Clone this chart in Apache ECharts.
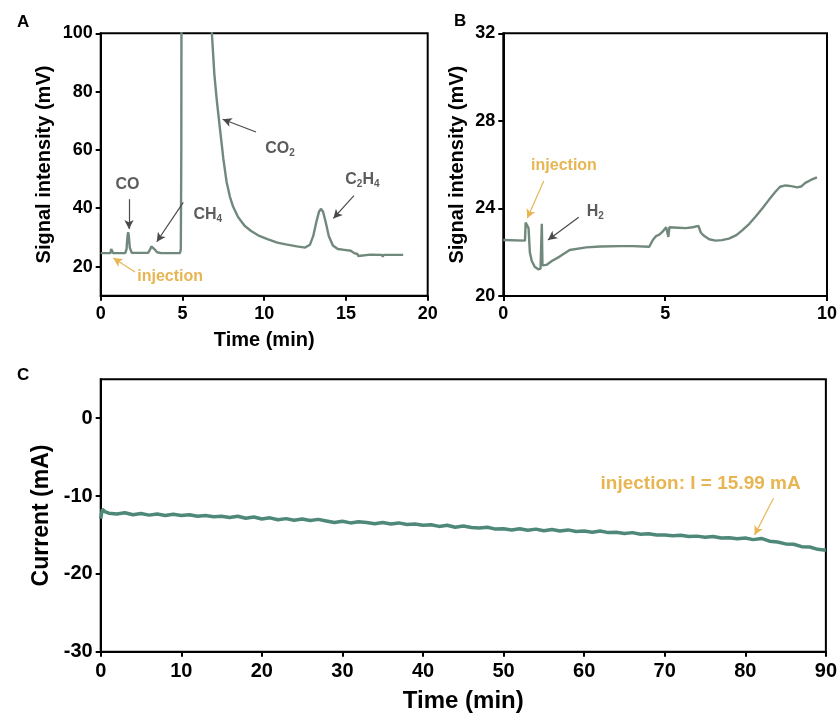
<!DOCTYPE html>
<html>
<head>
<meta charset="utf-8">
<script src="https://cdn.jsdelivr.net/npm/echarts@6/dist/echarts.min.js"></script>
<style>html,body{margin:0;padding:0;background:#fff}#c{width:840px;height:715px}</style>
</head>
<body>
<div id="c"></div>
<script>
// Panel A: GC signal (FID)
const aTime = [0, 0.6, 0.64, 0.66, 0.74, 0.76, 0.8, 1.5, 1.58, 1.64, 1.68, 1.72, 1.78, 1.9, 2.9, 3.0, 3.1, 3.18, 3.28, 3.45, 3.7, 4.85, 4.9, 4.93, 4.96, 6.7, 6.8, 6.95, 7.1, 7.3, 7.5, 7.7, 7.9, 8.1, 8.4, 8.8, 9.2, 9.7, 10.2, 10.8, 11.4, 12.0, 12.5, 12.8, 13.0, 13.2, 13.35, 13.48, 13.6, 13.75, 13.95, 14.2, 14.5, 14.9, 15.3, 15.5, 15.7, 15.75, 15.8, 16.5, 17.2, 17.25, 17.3, 18.0, 18.5];
const aSignal = [24.6, 24.6, 26, 26.1, 26, 24.6, 24.6, 24.6, 26, 30.5, 31.8, 30.5, 26.5, 24.7, 24.7, 25.6, 26.9, 27.0, 26.0, 24.9, 24.6, 24.6, 26, 60, 200, 200, 100, 86, 77, 67, 57, 49, 44, 40.5, 37, 34, 32.2, 30.5, 29.4, 28.2, 27.5, 26.9, 26.5, 27.5, 30.5, 35.5, 38.8, 39.8, 38.8, 35.5, 30.5, 27.2, 26, 25.7, 25.4, 24.6, 24.3, 23.6, 24.2, 24.1, 24.0, 23.3, 24.0, 24.0, 24.0];
const aYTicks = [20, 40, 60, 80, 100];

// Panel B: GC signal (TCD)
const bTime = [0, 0.67, 0.69, 0.72, 0.78, 0.82, 0.88, 0.97, 1.08, 1.15, 1.17, 1.19, 1.21, 1.24, 1.33, 1.5, 1.74, 2.05, 2.56, 3.0, 3.59, 4.0, 4.51, 4.62, 4.72, 4.82, 4.92, 5.03, 5.09, 5.1, 5.12, 5.13, 5.15, 5.4, 5.64, 5.85, 6.03, 6.1, 6.2, 6.36, 6.56, 6.75, 6.97, 7.2, 7.38, 7.6, 7.79, 8.0, 8.2, 8.4, 8.55, 8.72, 8.9, 9.08, 9.2, 9.33, 9.5, 9.69];
const bSignal = [22.56, 22.53, 23.35, 23.3, 23.1, 22.0, 21.6, 21.34, 21.22, 21.25, 21.3, 23.3, 21.4, 21.36, 21.42, 21.6, 21.8, 22.1, 22.22, 22.26, 22.28, 22.28, 22.25, 22.56, 22.74, 22.8, 22.94, 23.14, 23.12, 22.7, 22.7, 23.14, 23.14, 23.12, 23.1, 23.14, 23.2, 22.9, 22.75, 22.59, 22.53, 22.55, 22.62, 22.78, 23.0, 23.3, 23.62, 24.0, 24.38, 24.75, 24.99, 25.05, 25.02, 24.96, 25.0, 25.17, 25.3, 25.42];

// Panel C: current vs time
const cTime = [0, 0.2, 0.5, 1, 2, 3, 4, 5, 6, 7, 8, 9, 10, 11, 12, 13, 14, 15, 16, 17, 18, 19, 20, 21, 22, 23, 24, 25, 26, 27, 28, 29, 30, 31, 32, 33, 34, 35, 36, 37, 38, 39, 40, 41, 42, 43, 44, 45, 46, 47, 48, 49, 50, 51, 52, 53, 54, 55, 56, 57, 58, 59, 60, 61, 62, 63, 64, 65, 66, 67, 68, 69, 70, 71, 72, 73, 74, 75, 76, 77, 78, 79, 80, 81, 82, 83, 84, 85, 86, 87, 88, 89, 90];
const cCurrent = [-12.9, -11.7, -12.0, -12.2, -12.3, -12.15, -12.4, -12.25, -12.45, -12.3, -12.5, -12.35, -12.5, -12.4, -12.6, -12.5, -12.65, -12.6, -12.75, -12.6, -12.85, -12.7, -12.95, -12.8, -13.05, -12.9, -13.1, -12.95, -13.15, -13.0, -13.2, -13.4, -13.25, -13.45, -13.3, -13.4, -13.55, -13.4, -13.6, -13.45, -13.65, -13.6, -13.75, -13.7, -13.9, -13.75, -14.0, -13.85, -14.05, -14.1, -14.0, -14.25, -14.2, -14.35, -14.2, -14.4, -14.25, -14.45, -14.3, -14.5, -14.35, -14.55, -14.5, -14.65, -14.5, -14.7, -14.65, -14.8, -14.7, -14.9, -14.85, -15.0, -15.0, -15.1, -15.05, -15.2, -15.15, -15.3, -15.2, -15.4, -15.35, -15.5, -15.4, -15.6, -15.45, -15.8, -15.9, -16.15, -16.2, -16.5, -16.55, -16.85, -16.95];
const cYTicks = [-30, -20, -10, 0];

const FONT = 'Arial, "Liberation Sans", sans-serif';
const GRAY = '#5c5c5c';
const ORANGE = '#E8B553';
const ARROW = '#4a4a4a';

function zip(xs, ys) { return xs.map((x, i) => [x, ys[i]]); }

function valueAxis(gridIndex, opts) {
  return Object.assign({
    type: 'value', gridIndex,
    axisLine: { show: true, onZero: false, lineStyle: { color: '#000', width: 2 } },
    axisTick: { show: true, inside: false, length: 5, lineStyle: { color: '#000', width: 2 } },
    splitLine: { show: false },
    axisLabel: { color: '#000', fontWeight: 'bold', fontFamily: FONT, fontSize: 18, margin: 9 },
    nameLocation: 'middle',
    nameTextStyle: { color: '#000', fontWeight: 'bold', fontFamily: FONT, fontSize: 20 }
  }, opts);
}

function arrow(p1, p2, color) {
  return [{ coord: p1, lineStyle: { color, width: 1.2, type: 'solid' } }, { coord: p2 }];
}
function textPt(coord, formatter, color, size) {
  return { coord, symbolSize: 1, itemStyle: { color: 'rgba(0,0,0,0)' },
    label: { show: true, position: 'right', distance: 0, formatter, color, fontSize: size, fontWeight: 'bold', fontFamily: FONT,
      rich: {
        a: { color, fontSize: size, fontWeight: 'bold', fontFamily: FONT },
        s: { color, fontSize: Math.round(size * 0.65), fontWeight: 'bold', fontFamily: FONT, padding: [9, 0, 0, 0] }
      } } };
}
const mlBase = { silent: true, symbol: ['none', 'arrow'], symbolSize: [7, 9], label: { show: false }, emphasis: { disabled: true }, animation: false };
const mpBase = { silent: true, animation: false };

const panelTitle = (text, left, top) => ({ text, left, top, textStyle: { fontSize: 17, fontWeight: 'bold', fontFamily: FONT, color: '#000' } });

const option = {
  animation: false,
  backgroundColor: '#fff',
  title: [panelTitle('A', 12, 9), panelTitle('B', 449, 8), panelTitle('C', 12, 362)],
  grid: [
    { left: 100.7, top: 33.3, width: 327, height: 262.4, show: true, borderColor: '#000', borderWidth: 2 },
    { left: 503.3, top: 33.3, width: 325, height: 262.7, show: true, borderColor: '#000', borderWidth: 2 },
    { left: 100.7, top: 379.3, width: 729.3, height: 272.4, show: true, borderColor: '#000', borderWidth: 2 }
  ],
  xAxis: [
    valueAxis(0, { min: 0, max: 20, interval: 5, name: 'Time (min)', nameGap: 35 }),
    valueAxis(1, { min: 0, max: 10, interval: 5 }),
    valueAxis(2, { min: 0, max: 90, interval: 10, name: 'Time (min)', nameGap: 38,
      axisLabel: { color: '#000', fontWeight: 'bold', fontFamily: FONT, fontSize: 20, margin: 10 },
      nameTextStyle: { color: '#000', fontWeight: 'bold', fontFamily: FONT, fontSize: 24 } })
  ],
  yAxis: [
    valueAxis(0, { min: 10, max: 100, name: 'Signal intensity (mV)', nameGap: 46,
      axisLabel: { color: '#000', fontWeight: 'bold', fontFamily: FONT, fontSize: 18, margin: 8, customValues: aYTicks },
      axisTick: { show: true, inside: false, length: 5, lineStyle: { color: '#000', width: 2 }, customValues: aYTicks } }),
    valueAxis(1, { min: 20, max: 32, interval: 4, name: 'Signal intensity (mV)', nameGap: 36,
      axisLabel: { color: '#000', fontWeight: 'bold', fontFamily: FONT, fontSize: 18, margin: 8 } }),
    valueAxis(2, { min: -30, max: 5, name: 'Current (mA)', nameGap: 48,
      axisLabel: { color: '#000', fontWeight: 'bold', fontFamily: FONT, fontSize: 20, margin: 8, customValues: cYTicks },
      axisTick: { show: true, inside: false, length: 5, lineStyle: { color: '#000', width: 2 }, customValues: cYTicks },
      nameTextStyle: { color: '#000', fontWeight: 'bold', fontFamily: FONT, fontSize: 23 } })
  ],
  series: [
    {
      type: 'line', xAxisIndex: 0, yAxisIndex: 0, data: zip(aTime, aSignal), showSymbol: false, clip: true,
      lineStyle: { color: '#71897C', width: 2.4 }, itemStyle: { color: '#71897C' },
      markLine: Object.assign({}, mlBase, { data: [
        arrow([1.73, 43.1], [1.73, 32.9], ARROW),
        arrow([5.05, 42.0], [3.43, 28.5], ARROW),
        arrow([9.5, 66.15], [7.46, 70.5], ARROW),
        arrow([15.49, 44.3], [14.23, 36.5], ARROW),
        arrow([2.1, 18.1], [0.77, 22.9], ORANGE)
      ] }),
      markPoint: Object.assign({}, mpBase, { data: [
        textPt([0.88, 47.9], '{a|CO}', GRAY, 16),
        textPt([5.65, 37.6], '{a|CH}{s|4}', GRAY, 16),
        textPt([10.05, 60.3], '{a|CO}{s|2}', GRAY, 16),
        textPt([14.94, 49.7], '{a|C}{s|2}{a|H}{s|4}', GRAY, 16),
        textPt([2.22, 16.4], '{a|injection}', ORANGE, 16)
      ] })
    },
    {
      type: 'line', xAxisIndex: 1, yAxisIndex: 1, data: zip(bTime, bSignal), showSymbol: false, clip: true,
      lineStyle: { color: '#71897C', width: 2.4 }, itemStyle: { color: '#71897C' },
      markLine: Object.assign({}, mlBase, { data: [
        arrow([1.25, 25.25], [0.74, 23.55], ORANGE),
        arrow([2.33, 23.6], [1.38, 22.56], ARROW)
      ] }),
      markPoint: Object.assign({}, mpBase, { data: [
        textPt([0.85, 25.95], '{a|injection}', ORANGE, 16),
        textPt([2.57, 23.85], '{a|H}{s|2}', GRAY, 16)
      ] })
    },
    {
      type: 'line', xAxisIndex: 2, yAxisIndex: 2, data: zip(cTime, cCurrent), showSymbol: false, clip: true,
      lineStyle: { color: '#4E8878', width: 3.5 }, itemStyle: { color: '#4E8878' },
      markLine: Object.assign({}, mlBase, { data: [
        arrow([83.5, -10.28], [81.15, -15.0], ORANGE)
      ] }),
      markPoint: Object.assign({}, mpBase, { data: [
        textPt([62.0, -8.48], '{a|injection: I = 15.99 mA}', ORANGE, 19)
      ] })
    }
  ]
};

const chart = echarts.init(document.getElementById('c'), null, { renderer: 'canvas' });
chart.setOption(option);
</script>
</body>
</html>
